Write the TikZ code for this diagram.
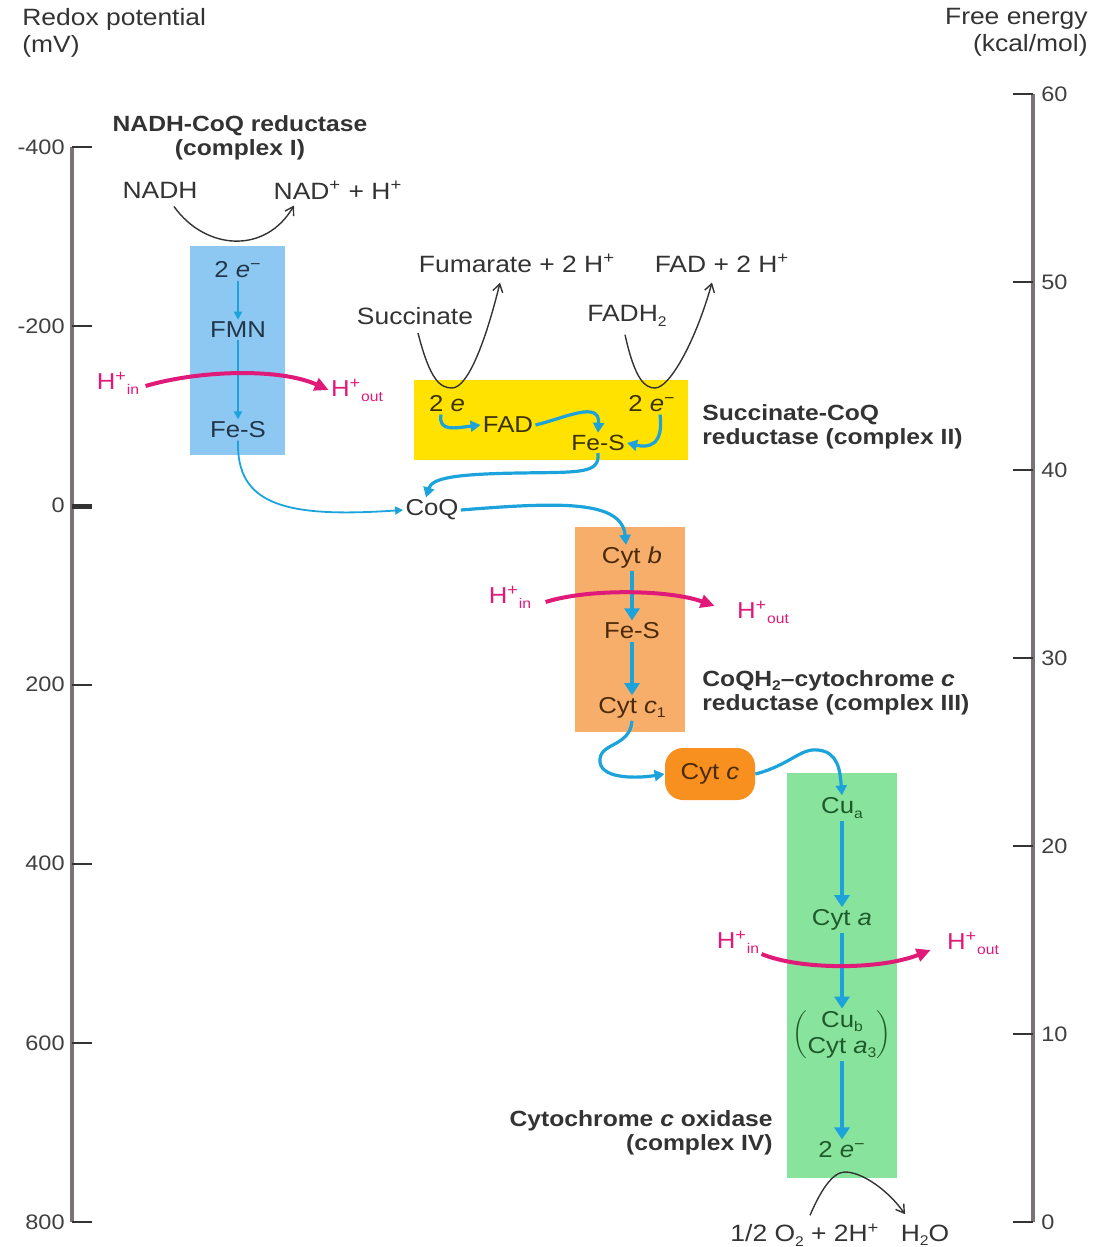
\documentclass[tikz,border=0pt]{standalone}
\usepackage{fontspec}
\setmainfont{Liberation Sans}[FakeStretch=1.12]
\usetikzlibrary{
  arrows.meta,  % Triangle / Straight Barb
  calc,         % coordinate offsets
  positioning   % relative placement
}
\definecolor{cIbox}{HTML}{8DC8F2}
\definecolor{cIIbox}{HTML}{FFE200}
\definecolor{cIIIbox}{HTML}{F7AE6A}
\definecolor{cytcbox}{HTML}{F7901E}
\definecolor{cIVbox}{HTML}{88E39C}
\definecolor{eblue}{HTML}{1CA3DC}
\definecolor{hpink}{HTML}{E01A78}
\definecolor{axisgray}{HTML}{7A7478}
\definecolor{txtI}{HTML}{22364A}
\definecolor{txtII}{HTML}{3A3200}
\definecolor{txtIII}{HTML}{4A2A0A}
\definecolor{txtIV}{HTML}{1F5A2A}
\newcommand{\sps}[1]{\textsuperscript{#1}}
\newcommand{\sbs}[1]{\raisebox{-0.35ex}{\scriptsize #1}}
\tikzset{
  axis line/.style={draw=axisgray, line width=1.6pt},
  axis tick/.style={draw=black!80, line width=1pt},
  axis label/.style={font=\fontsize{10.5}{12}\selectfont, text=black!75, inner sep=1pt},
  plain label/.style={font=\fontsize{11.8}{13.5}\selectfont, text=black!80, inner sep=1pt},
  complex title/.style={font=\fontsize{11}{12}\selectfont\bfseries, text=black!80, inner sep=1pt},
  carrier/.style={font=\fontsize{11.5}{13}\selectfont, inner sep=1pt},
  proton/.style={font=\fontsize{11.5}{13}\selectfont, text=hpink, inner sep=1pt},
  eflow/.style={draw=eblue, line width=1.6pt, -{Triangle[length=5pt,width=5.5pt]}},
  ethin/.style={draw=eblue, line width=0.9pt, -{Triangle[length=4pt,width=4pt]}},
  ethick/.style={draw=eblue, line width=2.4pt, -{Triangle[length=6pt,width=7.5pt]}},
  hpump/.style={draw=hpink, line width=2pt, -{Triangle[length=7pt,width=6.5pt]}},
  redox/.style={draw=black!80, line width=0.7pt, -{Straight Barb[length=4pt,width=5pt]}}
}

\begin{document}
\begin{tikzpicture}[x=0.5pt, y=-0.5pt]
  \useasboundingbox (0,0) rectangle (1096,1247);

  % ---------- axes ----------
  \node[plain label, anchor=north west, align=left] (redoxtitle) at (20,6) {Redox potential\\(mV)};
  \node[plain label, anchor=north east, align=right] (energytitle) at (1090,6) {Free energy\\(kcal/mol)};

  \draw[axis line] (72,147) -- (72,1222);
  \foreach \v/\lab in {0/-400,1/-200,2/0,3/200,4/400,5/600,6/800} {
    \draw[axis tick] (72,{147+\v*179.17}) -- (92,{147+\v*179.17});
    \node[axis label, anchor=east] (redox\v) at (67,{147+\v*179.17}) {\lab};
  }
  \draw[axis tick, line width=2.2pt] (72,507) -- (92,507);

  \draw[axis line] (1033,94) -- (1033,1222);
  \foreach \v/\lab in {0/60,1/50,2/40,3/30,4/20,5/10,6/0} {
    \draw[axis tick] (1013,{94+\v*188}) -- (1033,{94+\v*188});
    \node[axis label, anchor=west] (energy\v) at (1039,{94+\v*188}) {\lab};
  }

  % ---------- complex boxes ----------
  \fill[cIbox]   (190,246) rectangle (285,455);
  \fill[cIIbox]  (414,380) rectangle (688,460);
  \fill[cIIIbox] (575,527) rectangle (685,732);
  \fill[cIVbox]  (787,773) rectangle (897,1178);

  % ---------- complex I ----------
  \node[complex title, align=center] (titleI) at (240,138) {NADH-CoQ reductase\\(complex I)};
  \node[plain label] (nadh) at (160,190) {NADH};
  \node[plain label] (nad) at (338,190) {NAD\sps{+} + H\sps{+}};
  \draw[redox] ($(nadh.south)+(14,6)$) .. controls (205,250) and (265,255) .. ($(nad.south)+(-44,4)$);
  \node[carrier, text=txtI] (eI) at (238,270) {2 \textit{e}\sps{−}};
  \node[carrier, text=txtI] (fmn) at (238,330) {FMN};
  \node[carrier, text=txtI] (fesI) at (238,430) {Fe-S};
  \draw[ethin] (eI.south) -- (fmn.north);
  \draw[ethin] (fmn.south) -- (fesI.north);
  \node[proton] (hinI) at (118,383) {H\sps{+}\sbs{in}};
  \node[proton] (houtI) at (357,390) {H\sps{+}\sbs{out}};
  \draw[hpump] ($(hinI.east)+(4,3)$) .. controls (200,370) and (280,368) .. (houtI.west);

  % ---------- complex II ----------
  \node[plain label] (fumarate) at (517,263) {Fumarate + 2 H\sps{+}};
  \node[plain label] (fad2h) at (722,263) {FAD + 2 H\sps{+}};
  \node[plain label] (succinate) at (415,316) {Succinate};
  \node[plain label] (fadh) at (627,316) {FADH\sbs{2}};
  \draw[redox] ($(succinate.south)+(3,6)$) .. controls (430,380) and (440,388) .. (452,388)
    .. controls (468,388) and (486,340) .. ($(fumarate.south)+(-17,8)$);
  \draw[redox] ($(fadh.south)+(-2,6)$) .. controls (635,380) and (645,388) .. (655,388)
    .. controls (670,388) and (696,340) .. ($(fad2h.south)+(-10,8)$);
  \node[carrier, text=txtII] (eIIa) at (447,404) {2 \textit{e}};
  \node[carrier, text=txtII] (fad) at (508,425) {FAD};
  \node[carrier, text=txtII, font=\fontsize{11}{12}\selectfont] (fesII) at (598,443) {Fe-S};
  \node[carrier, text=txtII] (eIIb) at (652,404) {2 \textit{e}\sps{−}};
  \draw[eflow] ($(eIIa.south)+(-6,0)$) .. controls (438,432) and (455,428) .. (fad.west);
  \draw[eflow] (fad.east) .. controls (565,418) and (600,400) .. (fesII.north);
  \draw[eflow] ($(eIIb.south)+(8,0)$) .. controls (664,446) and (648,448) .. (fesII.east);
  \node[complex title, anchor=west, align=left] (titleII) at (700,427) {Succinate-CoQ\\reductase (complex II)};

  % ---------- coenzyme Q ----------
  \node[carrier, text=black!80] (coq) at (432,510) {CoQ};
  \draw[ethin] (fesI.south) .. controls (236,505) and (285,518) .. (coq.west);
  \draw[eflow] (fesII.south) .. controls (600,474) and (580,472) .. (520,473)
    .. controls (455,474) and (432,478) .. ($(coq.north)+(-6,0)$);

  % ---------- complex III ----------
  \node[carrier, text=txtIII] (cytb) at (632,558) {Cyt \textit{b}};
  \node[carrier, text=txtIII] (fesIII) at (632,631) {Fe-S};
  \node[carrier, text=txtIII] (cytcI) at (632,708) {Cyt \textit{c}\sbs{1}};
  \draw[eflow] (coq.east) .. controls (560,502) and (622,500) .. ($(cytb.north)+(-6,0)$);
  \draw[ethick] (cytb.south) -- (fesIII.north);
  \draw[ethick] (fesIII.south) -- (cytcI.north);
  \node[proton] (hinIII) at (510,597) {H\sps{+}\sbs{in}};
  \node[proton] (houtIII) at (763,612) {H\sps{+}\sbs{out}};
  \draw[hpump] ($(hinIII.east)+(12,5)$) .. controls (590,588) and (670,590) .. ($(houtIII.west)+(-20,-6)$);
  \node[complex title, anchor=west, align=left] (titleIII) at (700,693) {CoQH\sbs{2}–cytochrome \textit{c}\\reductase (complex III)};

  % ---------- cytochrome c ----------
  \node[carrier, text=txtIII, fill=cytcbox, rounded corners=9pt,
        minimum width=45pt, minimum height=26pt] (cytc) at (710,774) {Cyt \textit{c}};
  \draw[eflow] (cytcI.south) .. controls (630,748) and (598,742) .. (600,762)
    .. controls (602,780) and (640,778) .. (cytc.west);

  % ---------- complex IV ----------
  \node[carrier, text=txtIV] (cua) at (842,808) {Cu\sbs{a}};
  \node[carrier, text=txtIV] (cyta) at (842,920) {Cyt \textit{a}};
  \node[carrier, text=txtIV, inner sep=0pt] (cub) at (842,1035)
    {$\left(\begin{tabular}{@{}c@{}}Cu\sbs{b}\\Cyt \textit{a}\sbs{3}\end{tabular}\right)$};
  \node[carrier, text=txtIV] (eIV) at (842,1150) {2 \textit{e}\sps{−}};
  \draw[eflow] (cytc.east) .. controls (790,765) and (800,748) .. (818,750)
    .. controls (838,752) and (840,770) .. (cua.north);
  \draw[ethick] (cua.south) -- (cyta.north);
  \draw[ethick] (cyta.south) -- (cub.north);
  \draw[ethick] (cub.south) -- (eIV.north);
  \node[proton] (hinIV) at (738,942) {H\sps{+}\sbs{in}};
  \node[proton] (houtIV) at (973,943) {H\sps{+}\sbs{out}};
  \draw[hpump] ($(hinIV.east)+(0,12)$) .. controls (800,970) and (880,970) .. ($(houtIV.west)+(-14,7)$);
  \node[complex title, anchor=east, align=right] (titleIV) at (775,1133) {Cytochrome \textit{c} oxidase\\(complex IV)};

  \node[plain label] (oxygen) at (805,1235) {1/2 O\sbs{2} + 2H\sps{+}};
  \node[plain label] (water) at (925,1235) {H\sbs{2}O};
  \draw[redox] ($(oxygen.north)+(5,-6)$) .. controls (820,1192) and (832,1172) .. (845,1172)
    .. controls (862,1172) and (888,1190) .. ($(water.north)+(-20,-8)$);
\end{tikzpicture}
\end{document}
